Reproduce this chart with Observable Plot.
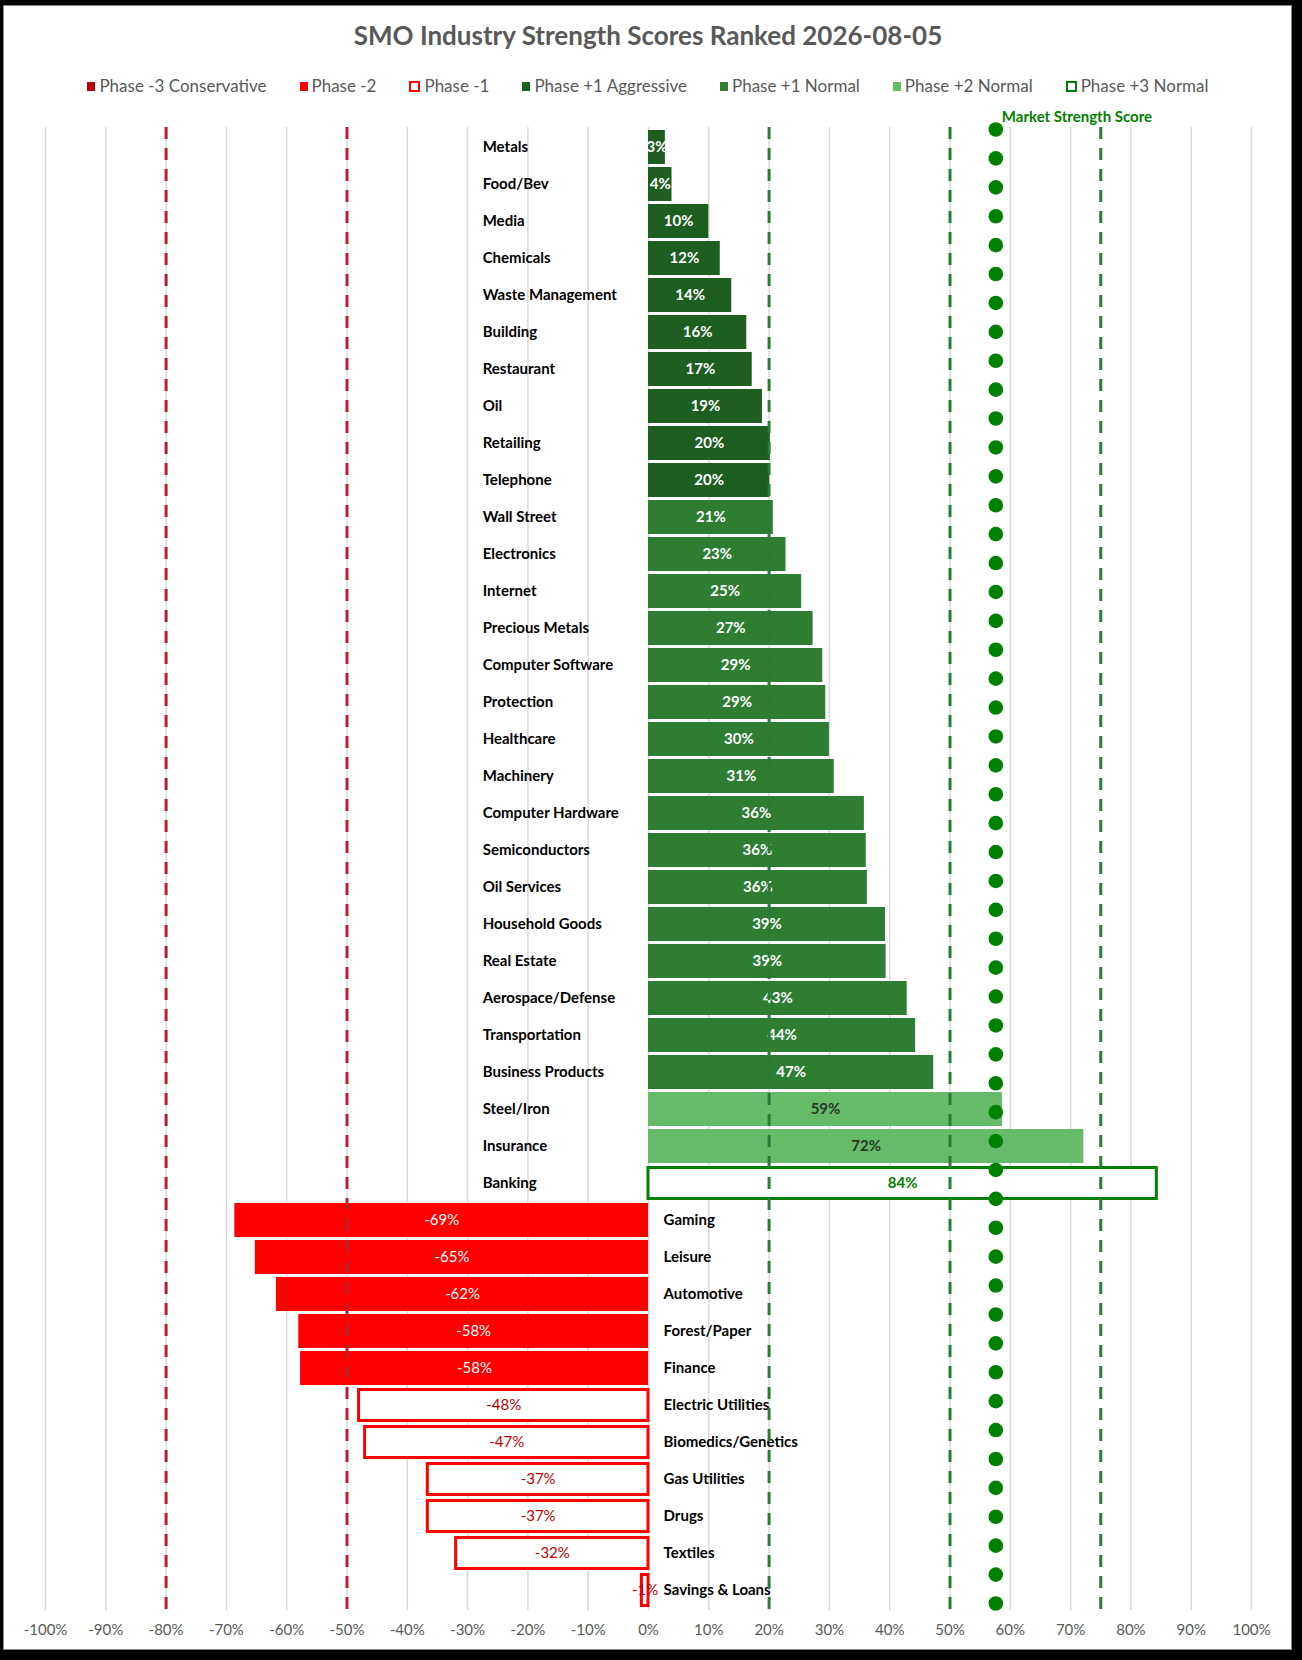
<!DOCTYPE html>
<html>
<head>
<meta charset="utf-8">
<script src="https://cdn.jsdelivr.net/npm/d3@7"></script>
<script src="https://cdn.jsdelivr.net/npm/@observablehq/plot@0.6"></script>
<style>
  body { margin: 0; background: #fff; }
  #page { position: relative; width: 1302px; height: 1660px; overflow: hidden; font-family: Lato, "Open Sans", sans-serif; }
  #frame { position: absolute; left: 0; top: 0; width: 1302px; height: 1660px; box-sizing: border-box;
           border-style: solid; border-color: #000; border-width: 5px 10px 10px 3px; pointer-events: none; z-index: 10;
           box-shadow: inset 0 0 0 1px #888; }
  #title { position: absolute; top: 20px; left: 0; width: 1296px; text-align: center; font-weight: 700;
           font-size: 26px; color: #595959; line-height: 30px; }
  #legend { position: absolute; top: 76px; left: 0; width: 1296px; display: flex; justify-content: center;
            gap: 33px; font-size: 17px; color: #595959; line-height: 20px; }
  .item { display: flex; align-items: center; }
  .sw { margin-right: 4px; box-sizing: border-box; }
  #chart, #dots { position: absolute; left: 0; top: 105px; }
</style>
</head>
<body>
<div id="page">
  <div id="title"></div>
  <div id="legend"></div>
  <div id="chart"></div>
  <div id="dots"></div>
  <div id="frame"></div>
</div>
<script>
// ---------- data ----------
const title = "SMO Industry Strength Scores Ranked 2026-08-05";

const categories = ["Metals","Food/Bev","Media","Chemicals","Waste Management","Building","Restaurant","Oil",
  "Retailing","Telephone","Wall Street","Electronics","Internet","Precious Metals","Computer Software",
  "Protection","Healthcare","Machinery","Computer Hardware","Semiconductors","Oil Services","Household Goods",
  "Real Estate","Aerospace/Defense","Transportation","Business Products","Steel/Iron","Insurance","Banking",
  "Gaming","Leisure","Automotive","Forest/Paper","Finance","Electric Utilities","Biomedics/Genetics",
  "Gas Utilities","Drugs","Textiles","Savings & Loans"];

const scores = [0.028,0.039,0.100,0.119,0.138,0.163,0.172,0.189,0.202,0.201,
  0.207,0.228,0.254,0.273,0.289,0.294,0.300,0.308,0.358,0.361,
  0.363,0.393,0.394,0.429,0.443,0.473,0.587,0.722,0.843,
  -0.686,-0.652,-0.617,-0.580,-0.577,-0.480,-0.470,-0.366,-0.366,-0.319,-0.011];

// phase index per row (into phases)
const rowPhase = [3,3,3,3,3,3,3,3,3,3,
  4,4,4,4,4,4,4,4,4,4,4,4,4,4,4,4,
  5,5,6,
  1,1,1,1,1,
  2,2,2,2,2,2];

const phases      = ["Phase -3 Conservative","Phase -2","Phase -1","Phase +1 Aggressive","Phase +1 Normal","Phase +2 Normal","Phase +3 Normal"];
const phaseFill   = ["#c00000","#ff0000","#ffffff","#1e5e20","#2e7d32","#66bb6a","#ffffff"];
const phaseStroke = ["#c00000","#ff0000","#ff0000","#1e5e20","#2e7d32","#66bb6a","#008000"];
const phaseHollow = [false,false,true,false,false,false,true];
const phaseText   = ["#ffffff","#ffffff","#c00000","#ffffff","#ffffff","#263826","#008000"];
const phaseBold   = [false,false,false,true,true,true,true];

const tickValues = [-1,-0.9,-0.8,-0.7,-0.6,-0.5,-0.4,-0.3,-0.2,-0.1,0,0.1,0.2,0.3,0.4,0.5,0.6,0.7,0.8,0.9,1];
const redThresholds = [-0.8,-0.5];
const greenThresholds = [0.2,0.5,0.75];

const marketLabel = "Market Strength Score";
const marketScores = [0.576,0.576,0.576,0.576,0.576,0.576,0.576,0.576,0.576,0.576,0.576,0.576,0.576,
  0.576,0.576,0.576,0.576,0.576,0.576,0.576,0.576,0.576,0.576,0.576,0.576,0.576,
  0.576,0.576,0.576,0.576,0.576,0.576,0.576,0.576,0.576,0.576,0.576,0.576,0.576,
  0.576,0.576,0.576,0.576,0.576,0.576,0.576,0.576,0.576,0.576,0.576,0.576,0.576];

// ---------- title & legend ----------
document.getElementById("title").textContent = title;
const legend = document.getElementById("legend");
phases.forEach((p, i) => {
  const it = document.createElement("div"); it.className = "item";
  const sw = document.createElement("div"); sw.className = "sw";
  if (phaseHollow[i]) {
    sw.style.width = "11px"; sw.style.height = "11px";
    sw.style.border = "2.5px solid " + phaseStroke[i]; sw.style.background = "#fff";
  } else {
    sw.style.width = "8px"; sw.style.height = "9px"; sw.style.background = phaseFill[i];
  }
  const tx = document.createElement("span"); tx.textContent = p;
  it.appendChild(sw); it.appendChild(tx); legend.appendChild(it);
});

// ---------- chart ----------
const rows = categories.map((c, i) => ({cat: c, v: scores[i], ph: rowPhase[i]}));
const fmt = d => Math.round(d * 100) + "%";
const labelXPos = -0.275, labelXNeg = 0.025;
const font = "Lato, 'Open Sans', sans-serif";

const W = 1302, H = 1545;
const chart = Plot.plot({
  width: W, height: H,
  marginTop: 22, marginBottom: 40, marginLeft: 45, marginRight: 51,
  style: {fontFamily: font, color: "#595959", background: "white", overflow: "visible"},
  x: {domain: [-1, 1], label: null},
  y: {domain: categories, paddingInner: 0.09, paddingOuter: 0.045, axis: null, label: null},
  marks: [
    Plot.ruleX(tickValues, {stroke: "#d9d9d9", strokeWidth: 1.5}),
    Plot.barX(rows.filter(d => !phaseHollow[d.ph]), {
      y: "cat", x1: 0, x2: "v",
      fill: d => phaseFill[d.ph], inset: 0
    }),
    Plot.barX(rows.filter(d => phaseHollow[d.ph]), {
      y: "cat", x1: 0, x2: "v",
      fill: "#ffffff", stroke: d => phaseStroke[d.ph], strokeWidth: 3, insetTop: 1.5, insetBottom: 1.5
    }),
    Plot.text(rows.filter(d => phaseBold[d.ph]), {
      y: "cat", x: d => d.v / 2, text: d => fmt(d.v),
      fill: d => phaseText[d.ph], fontSize: 15, fontWeight: 700
    }),
    Plot.text(rows.filter(d => !phaseBold[d.ph]), {
      y: "cat", x: d => d.v / 2, text: d => fmt(d.v),
      fill: d => phaseText[d.ph], fontSize: 15, fontWeight: 400
    }),
    Plot.text(rows, {
      y: "cat", x: d => d.v >= 0 ? labelXPos : labelXNeg, text: "cat",
      textAnchor: "start", fill: "#000", fontSize: 15, fontWeight: 700
    }),
    Plot.ruleX(redThresholds, {stroke: "#b5232f", strokeWidth: 3, strokeDasharray: "12,9"}),
    Plot.ruleX(greenThresholds, {stroke: "#2b7a37", strokeWidth: 3, strokeDasharray: "12,9"}),
    Plot.axisX({ticks: tickValues, tickFormat: fmt, tickSize: 0, tickPadding: 14, fontSize: 15, fill: "#595959", label: null})
  ]
});
document.getElementById("chart").appendChild(chart);

// ---------- market strength dots (overlay with same x scale) ----------
const dotRows = marketScores.map((v, i) => ({v, i}));
const dots = Plot.plot({
  width: W, height: H,
  marginTop: 22, marginBottom: 45, marginLeft: 45, marginRight: 51,
  style: {fontFamily: font, background: "none", overflow: "visible"},
  x: {domain: [-1, 1], axis: null, label: null},
  y: {type: "point", domain: dotRows.map(d => d.i), padding: 0.07, axis: null, label: null},
  marks: [
    Plot.dot(dotRows, {x: "v", y: "i", r: 7.3, fill: "#008000", stroke: "none"}),
    Plot.text([dotRows[0]], {x: "v", y: "i", text: () => marketLabel, textAnchor: "start",
      dx: 6, dy: -12, fill: "#008000", fontSize: 15, fontWeight: 700})
  ]
});
document.getElementById("dots").appendChild(dots);
</script>
</body>
</html>
